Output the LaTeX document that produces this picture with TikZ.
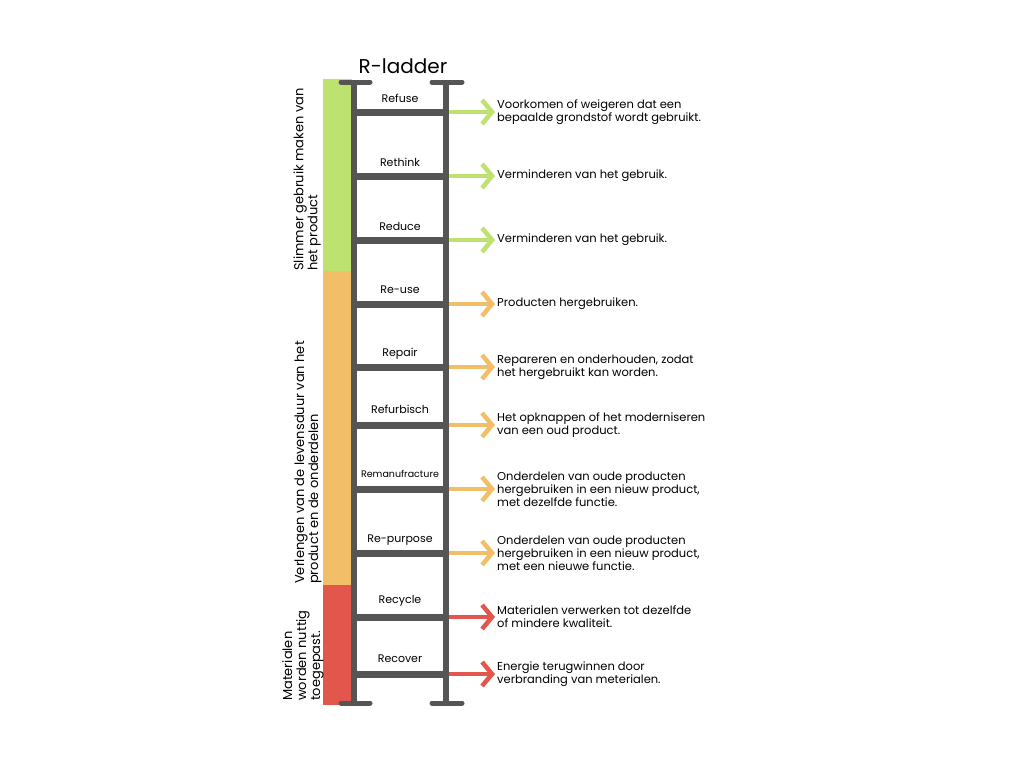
\documentclass[tikz,border=0pt]{standalone}
\usepackage{fontspec}
\setmainfont{Poppins}
\usetikzlibrary{arrows.meta}

\definecolor{railgray}{RGB}{85,85,85}
\definecolor{rgreen}{RGB}{190,226,112}
\definecolor{rorange}{RGB}{243,190,104}
\definecolor{rred}{RGB}{226,86,76}

\begin{document}
\begin{tikzpicture}[x=1pt,y=-1pt,
  rail/.style={railgray,line width=5.5pt},
  rung/.style={railgray,line width=7pt},
  railcap/.style={railgray,line width=5pt,line cap=round},
  lbl/.style={font=\fontsize{11}{12}\selectfont,inner sep=0pt},
  desc/.style={font=\fontsize{11.5}{13}\selectfont,align=left,anchor=west,inner sep=2pt},
  side/.style={font=\fontsize{13}{14}\selectfont,align=left,rotate=90,anchor=west,inner sep=0pt},
  arr/.style={-{Straight Barb[length=10pt,width=24pt]},line width=4.5pt}]
\useasboundingbox (0,0) rectangle (1024,768);
% coloured side bar
\fill[rgreen] (323,79) rectangle (352,271);
\fill[rorange] (323,271) rectangle (352,585);
\fill[rred] (323,585) rectangle (352,705);
\node[side] (s1) at (307,271) {Slimmer gebruik maken van\\het product};
\node[side] (s2) at (308,584) {Verlengen van de levensduur van het\\product en de onderdelen};
\node[side] (s3) at (303,701) {Materialen\\worden nuttig\\toegepast.};
\node[font=\fontsize{20}{22}\selectfont] (title) at (403,66) {R-ladder};
% ladder
\coordinate (lt) at (354,82); \coordinate (lb) at (354,703);
\coordinate (rt) at (446,82); \coordinate (rb) at (446,703);
\foreach \y/\lab/\ly/\col/\txt [count=\i] in {
  112/Refuse/98/rgreen/{Voorkomen of weigeren dat een\\bepaalde grondstof wordt gebruikt.},
  176/Rethink/162/rgreen/{Verminderen van het gebruik.},
  240/Reduce/226/rgreen/{Verminderen van het gebruik.},
  304/Re-use/290/rorange/{Producten hergebruiken.},
  367/Repair/354/rorange/{Repareren en onderhouden, zodat\\het hergebruikt kan worden.},
  425/Refurbisch/409/rorange/{Het opknappen of het moderniseren\\van een oud product.},
  489/{\fontsize{9.5}{10}\selectfont Remanufracture}/474/rorange/{Onderdelen van oude producten\\hergebruiken in een nieuw product,\\met dezelfde functie.},
  553/Re-purpose/540/rorange/{Onderdelen van oude producten\\hergebruiken in een nieuw product,\\met een nieuwe functie.},
  617/Recycle/601/rred/{Materialen verwerken tot dezelfde\\of mindere kwaliteit.},
  674/Recover/659/rred/{Energie terugwinnen door\\verbranding van meterialen.}}{
  \coordinate (a\i) at (354,\y);
  \coordinate (b\i) at (446,\y);
  \coordinate (r\i) at (449,\y);
  \draw[rung] (a\i)--(b\i);
  \node[lbl] (l\i) at (400,\ly) {\lab};
  \node[desc] (d\i) at (495,\y) {\txt};
  \draw[arr,\col] (r\i)--(d\i.west);
}
\draw[rail] (lt)--(lb);
\draw[rail] (rt)--(rb);
\draw[railcap] (341,82)--(370,82); \draw[railcap] (432,82)--(462,82);
\draw[railcap] (341,703)--(370,703); \draw[railcap] (432,703)--(462,703);
\end{tikzpicture}
\end{document}
